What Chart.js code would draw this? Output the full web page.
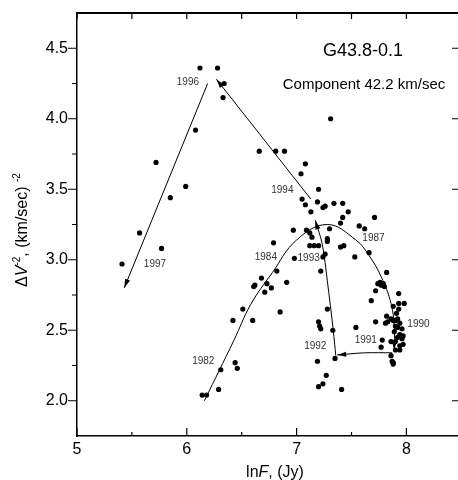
<!DOCTYPE html>
<html>
<head>
<meta charset="utf-8">
<script src="https://cdn.jsdelivr.net/npm/chart.js@4.4.1/dist/chart.umd.min.js"></script>
<style>
  body { margin: 0; background: #fff; }
</style>
</head>
<body>
<canvas id="chart" width="458" height="480"></canvas>
<script>
// observations (lnF, dV^-2)
const pointsX = [
  6.12, 6.28, 6.34, 6.33, 6.08, 5.72, 5.99, 5.85, 5.57, 5.41, 5.77,
  6.66, 6.81, 6.89, 7.31, 7.08, 7.04, 7.20, 7.05, 7.08, 7.19, 7.26, 7.24, 7.34, 7.42, 7.13, 7.47, 7.42, 7.40,
  7.71, 7.57, 7.62, 6.97, 7.30, 7.09, 7.12, 7.14, 7.28, 7.28, 6.79, 7.12, 7.16, 7.20, 7.40, 7.43, 7.26, 7.24,
  6.98, 7.53, 7.66,
  7.22, 6.82, 6.68, 6.73, 6.62, 6.61, 6.91, 6.77, 6.71, 6.51, 6.85, 7.28, 6.42, 6.60, 7.20, 7.21, 7.22, 7.33,
  6.44, 6.46, 6.31, 6.29, 6.14, 6.18,
  7.19, 7.35, 7.27, 7.24, 7.20, 7.41,
  7.82, 7.74, 7.77, 7.79, 7.80, 7.76, 7.72, 7.68, 7.93, 7.88, 7.93, 7.98, 7.93, 7.91, 7.82, 7.86, 7.88, 7.90,
  7.92, 7.72, 7.81, 7.83, 7.94, 7.90, 7.92, 7.54, 7.96, 7.89, 7.94, 7.97, 7.92, 7.96, 7.78, 7.86, 7.90, 7.94,
  7.97, 7.77, 7.90, 7.94, 7.86, 7.87, 7.88, 7.88
];
const pointsY = [
  4.36, 4.36, 4.25, 4.15, 3.92, 3.69, 3.52, 3.44, 3.19, 2.97, 3.08,
  3.77, 3.77, 3.77, 4.00, 3.68, 3.61, 3.50, 3.43, 3.39, 3.41, 3.38, 3.37, 3.40, 3.40, 3.34, 3.34, 3.30, 3.26,
  3.30, 3.24, 3.22, 3.21, 3.22, 3.21, 3.19, 3.16, 3.15, 3.13, 3.12, 3.10, 3.10, 3.10, 3.09, 3.10, 3.04, 3.02,
  3.01, 3.02, 3.05,
  2.92, 2.92, 2.87, 2.83, 2.82, 2.81, 2.84, 2.80, 2.77, 2.65, 2.63, 2.65, 2.57, 2.57, 2.56, 2.53, 2.51, 2.50,
  2.27, 2.23, 2.22, 2.08, 2.04, 2.04,
  2.28, 2.30, 2.18, 2.12, 2.10, 2.08,
  2.91, 2.83, 2.82, 2.83, 2.81, 2.84, 2.78, 2.71, 2.76, 2.67, 2.69, 2.69, 2.65, 2.62, 2.60, 2.58, 2.57, 2.57,
  2.58, 2.56, 2.55, 2.56, 2.55, 2.53, 2.52, 2.52, 2.51, 2.49, 2.47, 2.46, 2.45, 2.44, 2.43, 2.42, 2.42, 2.39,
  2.40, 2.38, 2.36, 2.36, 2.32, 2.28, 2.27, 2.26
];

// hand-drawn tracks, each ends with an arrow
const track1987X = [6.16, 6.43, 6.58, 6.78, 7.00, 7.28, 7.54, 7.66, 7.77, 7.86, 7.89, 7.89];
const track1987Y = [2.00, 2.43, 2.68, 2.91, 3.14, 3.25, 3.14, 3.03, 2.88, 2.69, 2.52, 2.36];
const track1991X = [7.87, 7.62, 7.37];
const track1991Y = [2.34, 2.34, 2.325];
const track1993X = [7.357, 7.334, 7.28, 7.234, 7.17];
const track1993Y = [2.32, 2.50, 2.85, 3.11, 3.28];
const track1996X = [7.13, 6.27];
const track1996Y = [3.43, 4.28];
const track1997X = [6.19, 5.43];
const track1997Y = [4.25, 2.80];

const yearText = ['1982', '1984', '1987', '1990', '1991', '1992', '1993', '1994', '1996', '1997'];
const yearX = [6.15, 6.72, 7.70, 8.11, 7.63, 7.17, 7.11, 6.87, 6.01, 5.71];
const yearY = [2.28, 3.02, 3.15, 2.54, 2.43, 2.39, 3.01, 3.49, 4.26, 2.97];

const xTicks = [5, 6, 7, 8];
const xMinor = [5.5, 6.5, 7.5];
const yTicks = [2.0, 2.5, 3.0, 3.5, 4.0, 4.5];
const yMinor = [2.25, 2.75, 3.25, 3.75, 4.25];

const FONT = 'Arial, "Liberation Sans", sans-serif';

function zip(xs, ys) {
    return xs.map((v, i) => ({ x: v, y: ys[i] }));
}

function trackSet(xs, ys, tension) {
    return {
        type: 'line',
        data: zip(xs, ys),
        borderColor: '#000',
        borderWidth: 1,
        pointRadius: 0,
        tension: tension,
        fill: false,
        arrow: true,
        order: 2
    };
}

function noPad(s) {
    s.paddingTop = 0;
    s.paddingBottom = 0;
    s.paddingLeft = 0;
    s.paddingRight = 0;
}

// arrows, frame ticks, labels and titles
const decor = {
    id: 'decor',
    afterDatasetsDraw(chart) {
        const ctx = chart.ctx;
        ctx.save();
        ctx.fillStyle = '#000';
        chart.data.datasets.forEach((ds, i) => {
            if (!ds.arrow) return;
            const pts = chart.getDatasetMeta(i).data;
            const p = pts[pts.length - 1], q = pts[pts.length - 2];
            const ang = Math.atan2(p.y - q.y, p.x - q.x);
            const len = 9, w = 2.6;
            const bx = p.x - len * Math.cos(ang), by = p.y - len * Math.sin(ang);
            ctx.beginPath();
            ctx.moveTo(p.x, p.y);
            ctx.lineTo(bx - w * Math.sin(ang), by + w * Math.cos(ang));
            ctx.lineTo(bx + w * Math.sin(ang), by - w * Math.cos(ang));
            ctx.closePath();
            ctx.fill();
        });
        ctx.restore();
    },
    afterDraw(chart) {
        const { ctx, chartArea: a, scales: { x, y } } = chart;
        ctx.save();
        ctx.strokeStyle = '#000';
        ctx.lineWidth = 2;
        ctx.beginPath();
        ctx.moveTo(a.left - 1, a.top);
        ctx.lineTo(a.right + 1, a.top);
        ctx.stroke();

        ctx.lineWidth = 1.2;
        ctx.beginPath();
        xTicks.concat(xMinor).forEach(v => {
            const px = x.getPixelForValue(v);
            const major = xTicks.includes(v);
            ctx.moveTo(px, a.bottom);
            ctx.lineTo(px, a.bottom - (major ? 8 : 4));
            ctx.moveTo(px, a.top);
            ctx.lineTo(px, a.top + 6);
        });
        yTicks.concat(yMinor).forEach(v => {
            const py = y.getPixelForValue(v);
            const major = yTicks.includes(v);
            ctx.moveTo(a.left, py);
            ctx.lineTo(a.left - (major ? 9 : 5), py);
            if (major) {
                ctx.moveTo(a.right, py);
                ctx.lineTo(a.right - 6, py);
            }
        });
        ctx.stroke();

        // year labels
        ctx.fillStyle = '#333';
        ctx.font = '10px ' + FONT;
        ctx.textAlign = 'center';
        ctx.textBaseline = 'middle';
        yearText.forEach((t, i) => {
            ctx.fillText(t, x.getPixelForValue(yearX[i]), y.getPixelForValue(yearY[i]));
        });

        // source name
        ctx.fillStyle = '#000';
        ctx.textBaseline = 'alphabetic';
        ctx.font = '18px ' + FONT;
        ctx.fillText('G43.8-0.1', 363, 56);
        ctx.font = '15px ' + FONT;
        ctx.fillText('Component 42.2 km/sec', 364, 89);

        // axis titles
        drawRich(ctx, [
            ['ln', '16px', 0], ['F', 'italic 16px', 0], [', (Jy)', '16px', 0]
        ], 275, 477);

        ctx.translate(27, 230);
        ctx.rotate(-Math.PI / 2);
        drawRich(ctx, [
            ['\u0394', '16px', 0], ['V', 'italic 16px', 0], ['-2', '10px', -7],
            [', (km/sec) ', '16px', 0], ['-2', '10px', -7]
        ], 0, 0);
        ctx.restore();
    }
};

function drawRich(ctx, parts, cx, base) {
    let total = 0;
    parts.forEach(p => { ctx.font = p[1] + ' ' + FONT; total += ctx.measureText(p[0]).width; });
    let px = cx - total / 2;
    ctx.textAlign = 'left';
    ctx.textBaseline = 'alphabetic';
    parts.forEach(p => {
        ctx.font = p[1] + ' ' + FONT;
        ctx.fillText(p[0], px, base + p[2]);
        px += ctx.measureText(p[0]).width;
    });
}

new Chart(document.getElementById('chart').getContext('2d'), {
    type: 'scatter',
    data: {
        datasets: [
            {
                type: 'scatter',
                data: zip(pointsX, pointsY),
                backgroundColor: '#000',
                borderWidth: 0,
                pointRadius: 2.6,
                order: 1
            },
            trackSet(track1987X, track1987Y, 0.4),
            trackSet(track1991X, track1991Y, 0.3),
            trackSet(track1993X, track1993Y, 0.3),
            trackSet(track1996X, track1996Y, 0),
            trackSet(track1997X, track1997Y, 0)
        ]
    },
    options: {
        responsive: false,
        animation: false,
        devicePixelRatio: 1,
        layout: { autoPadding: false, padding: { top: 13, right: 0, left: 0, bottom: 0 } },
        plugins: {
            legend: { display: false },
            tooltip: { enabled: false }
        },
        scales: {
            x: {
                type: 'linear',
                min: 5,
                max: 8.47,
                afterBuildTicks: s => { s.ticks = xTicks.map(v => ({ value: v })); },
                afterFit: s => { s.height = 44; noPad(s); },
                grid: { display: false, drawTicks: false },
                border: { display: true, color: '#000', width: 1.5 },
                ticks: { color: '#000', padding: 4, font: { family: FONT, size: 16 }, maxRotation: 0 }
            },
            y: {
                type: 'linear',
                min: 1.75,
                max: 4.75,
                afterBuildTicks: s => { s.ticks = yTicks.map(v => ({ value: v })); },
                afterFit: s => { s.width = 77; noPad(s); },
                grid: { display: false, drawTicks: false },
                border: { display: true, color: '#000', width: 1.5 },
                ticks: {
                    color: '#000', padding: 9, font: { family: FONT, size: 16 },
                    callback: v => v.toFixed(1)
                }
            }
        }
    },
    plugins: [decor]
});
</script>
</body>
</html>
